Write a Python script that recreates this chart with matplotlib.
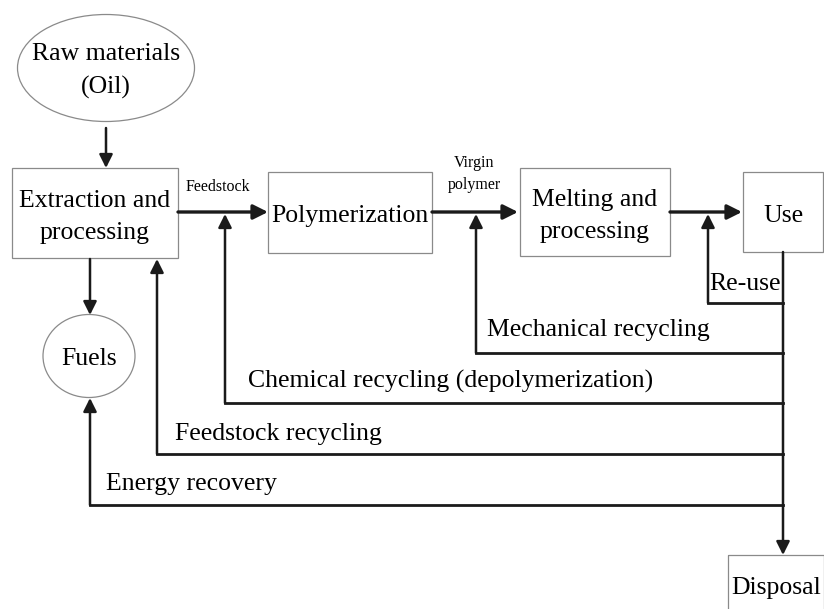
#!/usr/bin/env python
from matplotlib import pyplot as plt
from matplotlib.patches import Ellipse, Rectangle

# nodes: label, centre x, centre y, width, height (pixel space of the original figure)
box_labels = ['Extraction and\nprocessing', 'Polymerization', 'Melting and\nprocessing', 'Use', 'Disposal']
box_x = [95, 350, 595, 783, 776]
box_y = [213, 212, 212, 212, 584]
box_w = [166, 164, 150, 80, 96]
box_h = [90, 81, 88, 80, 58]

oval_labels = ['Raw materials\n(Oil)', 'Fuels']
oval_x = [106, 89]
oval_y = [68, 356]
oval_w = [177, 92]
oval_h = [107, 83]

# main flow arrows: (x0, y0) -> (x1, y1)
flow = [((106, 128), (106, 168)), ((178, 212), (268, 212)), ((432, 212), (518, 212)),
        ((670, 212), (742, 212)), ((90, 259), (90, 315))]
flow_labels = ['Feedstock', 'Virgin\npolymer']
flow_label_x = [218, 474]
flow_label_y = [187, 174]

# recycling loops leaving the vertical line below "Use"
loop_names = ['Re-use', 'Mechanical recycling', 'Chemical recycling (depolymerization)',
              'Feedstock recycling', 'Energy recovery']
loop_y = [303, 353, 403, 454, 505]
loop_x = [708, 476, 225, 157, 90]
loop_end = [214, 214, 214, 259, 398]
loop_label_x = [709, 487, 248, 175, 106]
loop_label_y = [284, 330, 381, 434, 484]

spine_x = 783

fig = plt.figure(figsize=(8.24, 6.09), dpi=100)
ax = fig.add_axes([0, 0, 1, 1])
ax.set_xlim(0, 824)
ax.set_ylim(609, 0)
ax.axis('off')

font = 'Liberation Serif'
edge = '#8a8a8a'

for lab, x, y, w, h in zip(box_labels, box_x, box_y, box_w, box_h):
    ax.add_patch(Rectangle((x - w / 2, y - h / 2), w, h, fill=False, ec=edge, lw=0.9))
    ax.text(x, y + 4, lab, ha='center', va='center', family=font, fontsize=18.5, linespacing=1.55)

for lab, x, y, w, h in zip(oval_labels, oval_x, oval_y, oval_w, oval_h):
    ax.add_patch(Ellipse((x, y), w, h, fill=False, ec=edge, lw=0.9))
    ax.text(x, y + 3, lab, ha='center', va='center', family=font, fontsize=18.5, linespacing=1.6)

thick = dict(arrowstyle='-|>', lw=2.4, color='#1a1a1a', mutation_scale=22, shrinkA=0, shrinkB=0)
thin = dict(arrowstyle='-|>', lw=1.8, color='#1a1a1a', mutation_scale=20, shrinkA=0, shrinkB=0)

for i, (p0, p1) in enumerate(flow):
    ax.annotate('', xy=p1, xytext=p0, arrowprops=thick if i in (1, 2, 3) else thin)

for lab, x, y in zip(flow_labels, flow_label_x, flow_label_y):
    ax.text(x, y, lab, ha='center', va='center', family=font, fontsize=11.5, linespacing=1.45)

# spine from Use down to Disposal
ax.annotate('', xy=(spine_x, 555), xytext=(spine_x, 252), arrowprops=thin)

for lab, y, x, end, lx, ly in zip(loop_names, loop_y, loop_x, loop_end, loop_label_x, loop_label_y):
    ax.plot([spine_x, x], [y, y], color='#1a1a1a', lw=2.0, solid_capstyle='projecting')
    ax.annotate('', xy=(x, end), xytext=(x, y), arrowprops=thin)
    ax.text(lx, ly, lab, ha='left', va='center', family=font, fontsize=18.5)

fig.savefig('out.png', dpi=100)
